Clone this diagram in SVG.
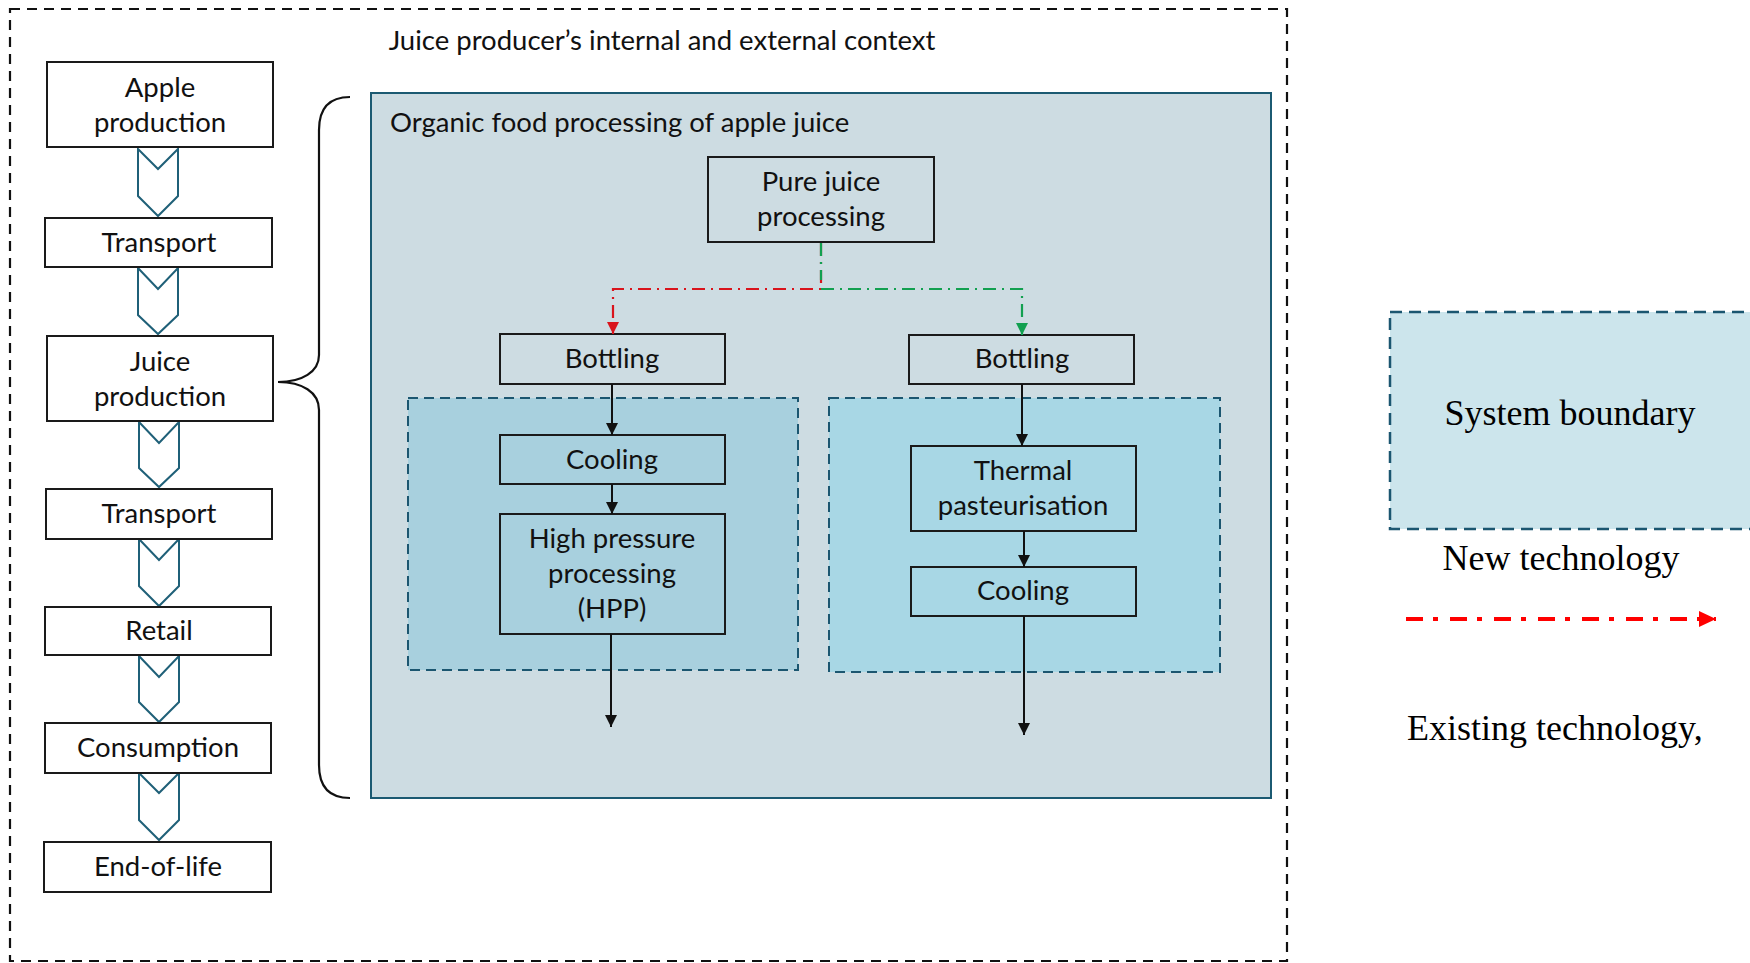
<svg xmlns="http://www.w3.org/2000/svg" width="1750" height="963" viewBox="0 0 1750 963">
<defs>
<style>
.sans{font-family:Lato,"Open Sans","Liberation Sans",sans-serif;font-size:27.5px;fill:#111;}
.serif{font-family:"Liberation Serif","Times New Roman",serif;font-size:36px;fill:#000;}
.box{fill:#fff;stroke:#1a1a1a;stroke-width:2;}
.pbox{fill:none;stroke:#1a1a1a;stroke-width:2;}
.chev{fill:#fff;stroke:#1f6078;stroke-width:2;}
.sb{stroke:#1b5670;stroke-width:2;stroke-dasharray:10 6;}
.conn{fill:none;stroke:#111;stroke-width:2;}
.red{fill:none;stroke:#d9141c;stroke-width:2.2;stroke-dasharray:13 6 2 6;}
.green{fill:none;stroke:#12a050;stroke-width:2.2;stroke-dasharray:13 6 2 6;}
</style>
<marker id="ab" markerUnits="userSpaceOnUse" markerWidth="12" markerHeight="12" viewBox="0 0 12 12" refX="12" refY="6" orient="auto"><path d="M0,0 L12,6 L0,12 Z" fill="#111"/></marker>
<marker id="ar" markerUnits="userSpaceOnUse" markerWidth="12" markerHeight="12" viewBox="0 0 12 12" refX="12" refY="6" orient="auto"><path d="M0,0 L12,6 L0,12 Z" fill="#d9141c"/></marker>
<marker id="ag" markerUnits="userSpaceOnUse" markerWidth="12" markerHeight="12" viewBox="0 0 12 12" refX="12" refY="6" orient="auto"><path d="M0,0 L12,6 L0,12 Z" fill="#12a050"/></marker>
<marker id="al" markerUnits="userSpaceOnUse" markerWidth="17" markerHeight="16" viewBox="0 0 17 16" refX="17" refY="8" orient="auto"><path d="M0,0 L17,8 L0,16 Z" fill="#ff0000"/></marker>
</defs>
<rect width="1750" height="963" fill="#fff"/>

<g id="context">
<rect x="10" y="9" width="1277" height="952" fill="none" stroke="#111" stroke-width="2.2" stroke-dasharray="10 7"/>
<text class="sans" x="662" y="50" text-anchor="middle">Juice producer’s internal and external context</text>
</g>

<g id="chevrons">
<polygon class="chev" points="138,149 158,169 178,149 178,196 158,216 138,196"/>
<polygon class="chev" points="138,268 158,289 178,268 178,315 158,334 138,315"/>
<polygon class="chev" points="139,422 159,443 179,422 179,468 159,487 139,468"/>
<polygon class="chev" points="139,539 159,560 179,539 179,586 159,606 139,586"/>
<polygon class="chev" points="139,656 159,677 179,656 179,702 159,722 139,702"/>
<polygon class="chev" points="139,773 159,793 179,773 179,820 159,840 139,820"/>
</g>

<g id="apple-production"><rect class="box" x="47" y="62" width="226" height="85"/><text class="sans" x="160" y="97" text-anchor="middle">Apple</text><text class="sans" x="160" y="132" text-anchor="middle">production</text></g>
<g id="transport-1"><rect class="box" x="45" y="218" width="227" height="49"/><text class="sans" x="159" y="252" text-anchor="middle">Transport</text></g>
<g id="juice-production"><rect class="box" x="47" y="336" width="226" height="85"/><text class="sans" x="160" y="371" text-anchor="middle">Juice</text><text class="sans" x="160" y="406" text-anchor="middle">production</text></g>
<g id="transport-2"><rect class="box" x="46" y="489" width="226" height="50"/><text class="sans" x="159" y="523" text-anchor="middle">Transport</text></g>
<g id="retail"><rect class="box" x="45" y="607" width="226" height="48"/><text class="sans" x="159" y="640" text-anchor="middle">Retail</text></g>
<g id="consumption"><rect class="box" x="45" y="723" width="226" height="50"/><text class="sans" x="158" y="757" text-anchor="middle">Consumption</text></g>
<g id="end-of-life"><rect class="box" x="44" y="842" width="227" height="50"/><text class="sans" x="158" y="876" text-anchor="middle">End-of-life</text></g>

<g id="brace">
<path d="M350,97 C330,97 319,108 319,130 L319,355 C319,372 302,382 278,382 C302,382 319,392 319,410 L319,765 C319,787 330,798 350,798" fill="none" stroke="#111" stroke-width="2.2"/>
</g>

<g id="organic-processing">
<rect x="371" y="93" width="900" height="705" fill="#cddce2" stroke="#1b5a72" stroke-width="2"/>
<text class="sans" x="390" y="132">Organic food processing of apple juice</text>
</g>

<g id="boundary-hpp"><rect class="sb" x="408" y="398" width="390" height="272" fill="#a8d0de"/></g>
<g id="boundary-thermal"><rect class="sb" x="829" y="398" width="391" height="274" fill="#a8d7e5"/></g>

<g id="pure-juice"><rect class="pbox" x="708" y="157" width="226" height="85"/><text class="sans" x="821" y="191" text-anchor="middle">Pure juice</text><text class="sans" x="821" y="226" text-anchor="middle">processing</text></g>
<g id="bottling-new"><rect class="pbox" x="500" y="334" width="225" height="50"/><text class="sans" x="612" y="368" text-anchor="middle">Bottling</text></g>
<g id="bottling-existing"><rect class="pbox" x="909" y="335" width="225" height="49"/><text class="sans" x="1022" y="368" text-anchor="middle">Bottling</text></g>
<g id="cooling-new"><rect class="pbox" x="500" y="435" width="225" height="49"/><text class="sans" x="612" y="469" text-anchor="middle">Cooling</text></g>
<g id="hpp"><rect class="pbox" x="500" y="514" width="225" height="120"/><text class="sans" x="612" y="548" text-anchor="middle">High pressure</text><text class="sans" x="612" y="583" text-anchor="middle">processing</text><text class="sans" x="612" y="618" text-anchor="middle">(HPP)</text></g>
<g id="thermal"><rect class="pbox" x="911" y="446" width="225" height="85"/><text class="sans" x="1023" y="480" text-anchor="middle">Thermal</text><text class="sans" x="1023" y="515" text-anchor="middle">pasteurisation</text></g>
<g id="cooling-existing"><rect class="pbox" x="911" y="567" width="225" height="49"/><text class="sans" x="1023" y="600" text-anchor="middle">Cooling</text></g>

<g id="connectors">
<path class="red" d="M821,243 L821,289 L613,289 L613,334" marker-end="url(#ar)"/>
<path class="green" d="M821,243 L821,280 M821,289 L1022,289 L1022,335" marker-end="url(#ag)"/>
<path class="conn" d="M612,384 L612,435" marker-end="url(#ab)"/>
<path class="conn" d="M612,484 L612,514" marker-end="url(#ab)"/>
<path class="conn" d="M611,634 L611,727" marker-end="url(#ab)"/>
<path class="conn" d="M1022,384 L1022,446" marker-end="url(#ab)"/>
<path class="conn" d="M1024,531 L1024,567" marker-end="url(#ab)"/>
<path class="conn" d="M1024,616 L1024,735" marker-end="url(#ab)"/>
</g>

<g id="legend">
<rect x="1390" y="312" width="362" height="217" fill="#cce5ec" stroke="#1b5670" stroke-width="2.5" stroke-dasharray="12 7"/>
<text class="serif" x="1570" y="425" text-anchor="middle">System boundary</text>
<text class="serif" x="1561" y="570" text-anchor="middle">New technology</text>
<path d="M1406,619 L1716,619" fill="none" stroke="#ff0000" stroke-width="4" stroke-dasharray="17 10 5 12" marker-end="url(#al)"/>
<text class="serif" x="1407" y="740">Existing technology,</text>
</g>
</svg>
